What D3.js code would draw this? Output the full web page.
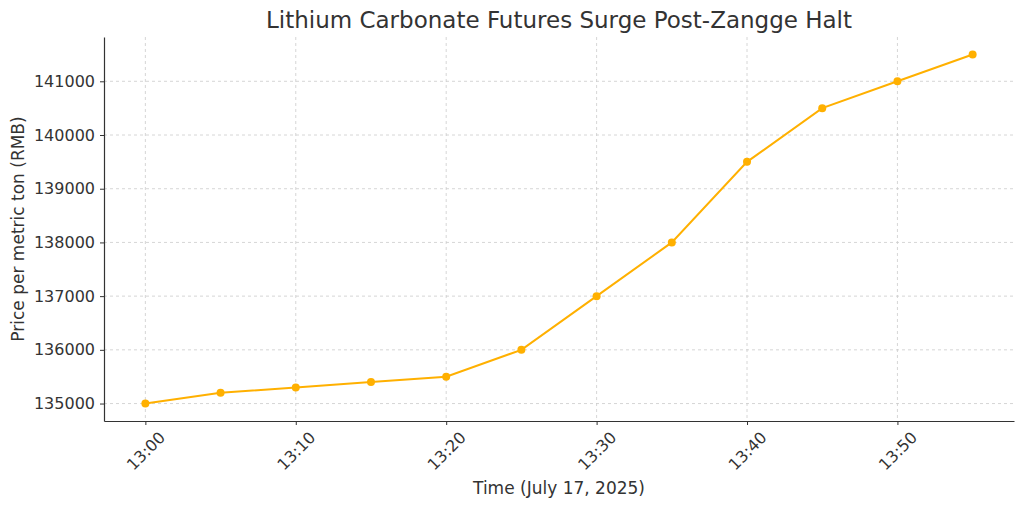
<!DOCTYPE html>
<html>
<head>
<meta charset="utf-8">
<script src="https://cdn.jsdelivr.net/npm/d3@7"></script>
<style>
  body { margin: 0; background: #fff; }
  svg, svg text { font-family: "DejaVu Sans", sans-serif; }
</style>
</head>
<body>
<script>
const times = ['13:00', '13:05', '13:10', '13:15', '13:20', '13:25', '13:30', '13:35', '13:40', '13:45', '13:50', '13:55'];
const prices = [135000, 135200, 135300, 135400, 135500, 136000, 137000, 138000, 139500, 140500, 141000, 141500];
const xTicks = ['13:00', '13:10', '13:20', '13:30', '13:40', '13:50'];
const yTicks = [135000, 136000, 137000, 138000, 139000, 140000, 141000];

const width = 1024;
const height = 507;
const margin = { top: 37, right: 10, bottom: 86, left: 104 };
const lineColor = '#ffb000';

function toMinutes(t) {
  const [h, m] = t.split(':').map(Number);
  return (h - 13) * 60 + m;
}

const svg = d3.select('body').append('svg').attr('width', width).attr('height', height);

const xScale = d3.scaleLinear()
  .domain([-2.75, 57.75])
  .range([margin.left, width - margin.right]);

const yScale = d3.scaleLinear()
  .domain([134675, 141825])
  .range([height - margin.bottom, margin.top]);

// grid
const grid = svg.append('g').attr('stroke', '#cccccc').attr('stroke-dasharray', '3,3').attr('stroke-width', 0.8);
grid.selectAll('line.v').data(xTicks).enter().append('line')
  .attr('x1', d => xScale(toMinutes(d))).attr('x2', d => xScale(toMinutes(d)))
  .attr('y1', margin.top).attr('y2', height - margin.bottom);
grid.selectAll('line.h').data(yTicks).enter().append('line')
  .attr('x1', margin.left).attr('x2', width - margin.right)
  .attr('y1', d => yScale(d)).attr('y2', d => yScale(d));

// axes
const xAxis = svg.append('g')
  .attr('transform', `translate(0, ${height - margin.bottom})`)
  .call(d3.axisBottom(xScale).tickValues(xTicks.map(toMinutes)).tickFormat((d, i) => xTicks[i]).tickSize(4).tickSizeOuter(0))
  .attr('font-family', null);
xAxis.select('.domain').attr('stroke', '#333').attr('stroke-width', 1.2);
xAxis.selectAll('.tick line').attr('stroke', '#333');
xAxis.selectAll('.tick text')
  .style('font-size', '16px').attr('fill', '#333')
  .attr('text-anchor', 'middle')
  .attr('y', 0).attr('dy', '0.35em')
  .attr('transform', 'translate(0, 30) rotate(-45)');

const yAxis = svg.append('g')
  .attr('transform', `translate(${margin.left}, 0)`)
  .call(d3.axisLeft(yScale).tickValues(yTicks).tickFormat(d => String(d)).tickSize(4).tickSizeOuter(0))
  .attr('font-family', null);
yAxis.select('.domain').attr('stroke', '#333').attr('stroke-width', 1.2);
yAxis.selectAll('.tick line').attr('stroke', '#333');
yAxis.selectAll('.tick text').style('font-size', '16px').attr('fill', '#333').attr('x', -9);

// line
const line = d3.line()
  .x((d, i) => xScale(toMinutes(times[i])))
  .y(d => yScale(d));

svg.append('path')
  .datum(prices)
  .attr('fill', 'none')
  .attr('stroke', lineColor)
  .attr('stroke-width', 2)
  .attr('d', line);

svg.selectAll('circle.pt').data(prices).enter().append('circle')
  .attr('cx', (d, i) => xScale(toMinutes(times[i])))
  .attr('cy', d => yScale(d))
  .attr('r', 4)
  .attr('fill', lineColor);

// labels
svg.append('text')
  .attr('x', (margin.left + width - margin.right) / 2).attr('y', 28)
  .attr('text-anchor', 'middle').style('font-size', '23px').attr('fill', '#333')
  .text('Lithium Carbonate Futures Surge Post-Zangge Halt');

svg.append('text')
  .attr('x', (margin.left + width - margin.right) / 2).attr('y', 494)
  .attr('text-anchor', 'middle').style('font-size', '17px').attr('fill', '#333')
  .text('Time (July 17, 2025)');

svg.append('text')
  .attr('transform', `translate(24, ${(margin.top + height - margin.bottom) / 2}) rotate(-90)`)
  .attr('text-anchor', 'middle').style('font-size', '17px').attr('fill', '#333')
  .text('Price per metric ton (RMB)');
</script>
</body>
</html>
